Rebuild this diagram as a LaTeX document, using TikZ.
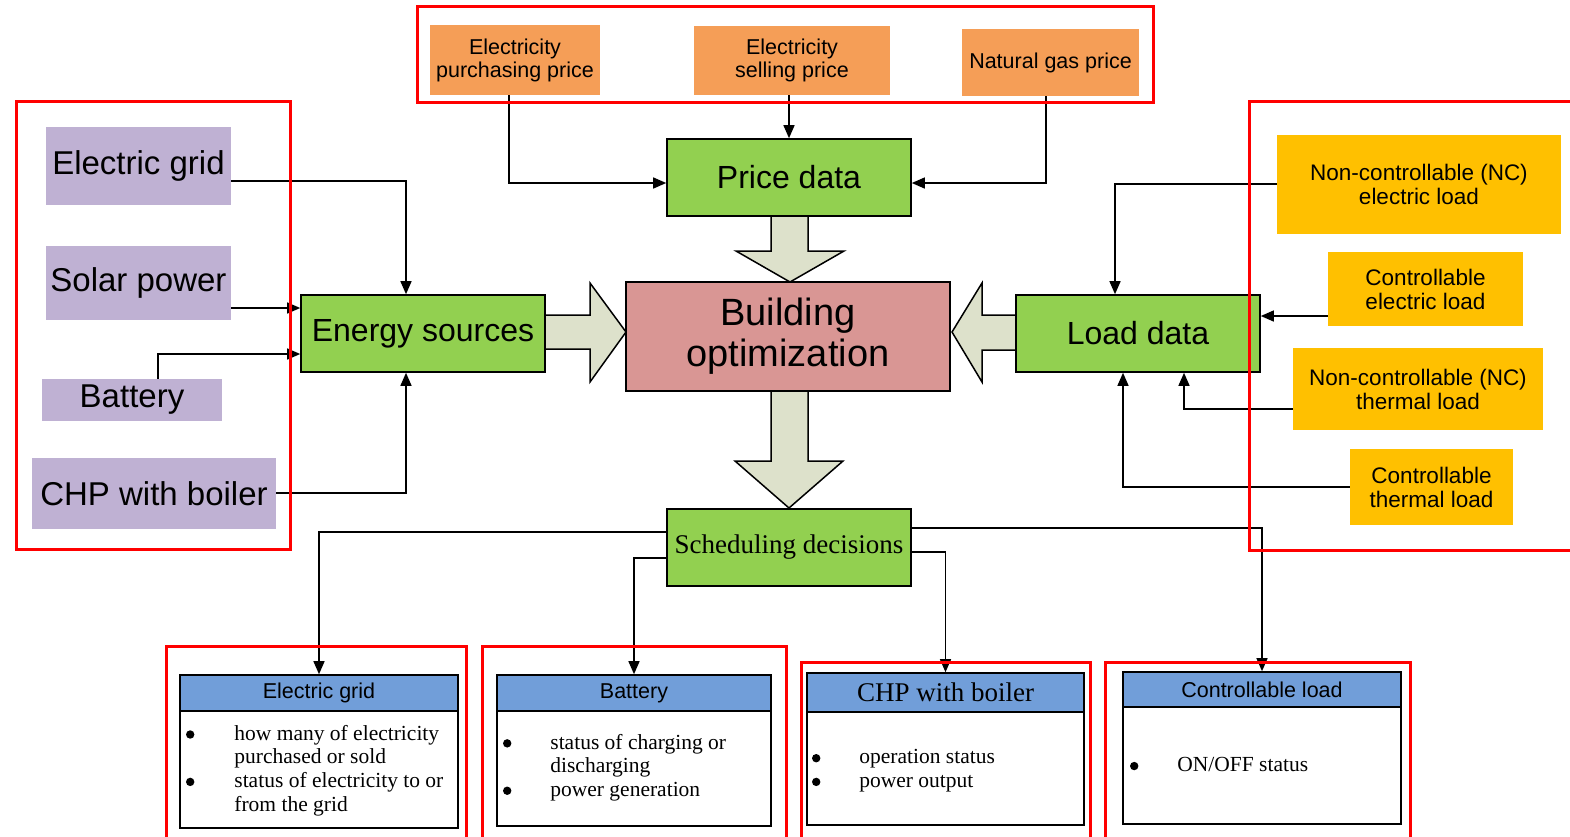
\documentclass[tikz,border=0pt]{standalone}
\usepackage{fontspec}
\setmainfont{Liberation Sans}
\newfontfamily\serifrm{Liberation Serif}
\usetikzlibrary{arrows.meta,calc}
\definecolor{greenbox}{HTML}{92D050}
\definecolor{orangebox}{HTML}{F59E57}
\definecolor{purplebox}{HTML}{BFB1D3}
\definecolor{yellowbox}{HTML}{FFC000}
\definecolor{pinkbox}{HTML}{D99694}
\definecolor{blockfill}{HTML}{DDE1CB}
\definecolor{headerblue}{HTML}{719ED9}
\definecolor{framered}{HTML}{FF0000}
\newcommand{\bigbul}{\raisebox{1.5pt}{\tikz\fill[black] (0pt,0pt) circle (4.2pt);}}
\begin{document}
\begin{tikzpicture}[x=1pt,y=-1pt,
  bx/.style={draw=black, line width=1.6pt, inner sep=0pt, align=center},
  flat/.style={inner sep=0pt, align=center},
  greenb/.style={bx, fill=greenbox, font=\fontsize{32}{38}\selectfont},
  purpleb/.style={flat, fill=purplebox, font=\fontsize{33}{38}\selectfont},
  orangeb/.style={flat, fill=orangebox, font=\fontsize{21.5}{23}\selectfont},
  yellowb/.style={flat, fill=yellowbox, font=\fontsize{22.5}{24}\selectfont},
  hdr/.style={bx, fill=headerblue, font=\fontsize{21.5}{24}\selectfont},
  bodyb/.style={bx, fill=white},
  bodytxt/.style={anchor=west, inner sep=0pt, font=\serifrm\fontsize{21.5}{23.7}\selectfont},
  conn/.style={line width=1.4pt, -{Triangle[length=13pt,width=11pt]}},
  redframe/.style={draw=framered, line width=3pt},
  blockarr/.style={fill=blockfill, draw=black, line width=1.5pt, line join=miter}]
\useasboundingbox (0,0) rectangle (1570,836);
\fill[white] (0,0) rectangle (1570,836);

% block arrows
\filldraw[blockarr] (771,216) -- (771,251) -- (736,251) -- (790,282) -- (844,251) -- (808,251) -- (808,216);
\filldraw[blockarr] (545,315) -- (590,315) -- (590,283) -- (626,332) -- (590,382) -- (590,349) -- (545,349);
\filldraw[blockarr] (1016,315) -- (982,315) -- (982,283) -- (952,332) -- (982,382) -- (982,350) -- (1016,350);
\filldraw[blockarr] (771,391) -- (771,461) -- (735,461) -- (789,508) -- (843,461) -- (808,461) -- (808,391);

% price inputs
\node[orangeb, minimum width=170, minimum height=70] (pp) at (515,60) {Electricity\\purchasing price};
\node[orangeb, minimum width=196, minimum height=69] (sp) at (792,60.5) {Electricity\\selling price};
\node[orangeb, minimum width=177, minimum height=67] (ng) at (1050.5,62.5) {Natural gas price};

% green nodes
\node[greenb, minimum width=244, minimum height=77] (price) at (789,177.5) {Price data};
\node[greenb, minimum width=244, minimum height=77] (es) at (423,333.5) {Energy sources};
\node[greenb, minimum width=244, minimum height=77] (ld) at (1138,333.5) {Load data};
\node[bx, fill=pinkbox, minimum width=324, minimum height=109, font=\fontsize{38}{41}\selectfont] (bo) at (788,336.5) {Building\\optimization};
\node[bx, fill=greenbox, minimum width=244, minimum height=77, font=\serifrm\fontsize{27}{30}\selectfont] (sched) at (789,547.5) {Scheduling decisions};

% energy sources
\node[purpleb, minimum width=185, minimum height=78] (eg) at (138.5,166) {Electric grid};
\node[purpleb, minimum width=185, minimum height=74] (solar) at (138.5,283) {Solar power};
\node[purpleb, minimum width=180, minimum height=42] (batt) at (132,400) {Battery};
\node[purpleb, minimum width=244, minimum height=71] (chp) at (154,493.5) {CHP with boiler};

% loads
\node[yellowb, minimum width=284, minimum height=99] (ncel) at (1419,184.5) {Non-controllable (NC)\\electric load};
\node[yellowb, minimum width=195, minimum height=74] (cel) at (1425.5,289) {Controllable\\electric load};
\node[yellowb, minimum width=250, minimum height=82] (ncth) at (1418,389) {Non-controllable (NC)\\thermal load};
\node[yellowb, minimum width=163, minimum height=76] (cth) at (1431.5,487) {Controllable\\thermal load};

% bottom boxes
\node[bodyb, minimum width=278, minimum height=117] (gridb) at (319,769.5) {};
\node[hdr, minimum width=278, minimum height=36] (gridh) at (319,693) {Electric grid};
\node[bodyb, minimum width=274, minimum height=115] (battb) at (634,768.5) {};
\node[hdr, minimum width=274, minimum height=36] (batth) at (634,693) {Battery};
\node[bodyb, minimum width=277, minimum height=113] (chpb) at (945.5,768.5) {};
\node[hdr, minimum width=277, minimum height=39, font=\serifrm\fontsize{27}{30}\selectfont] (chph) at (945.5,692.5) {CHP with boiler};
\node[bodyb, minimum width=278, minimum height=117] (ctrlb) at (1262,765.5) {};
\node[hdr, minimum width=278, minimum height=35] (ctrlh) at (1262,689.5) {Controllable load};

\node[bodytxt] (gridt) at (185.8,771) {\begin{tabular}{@{}l@{\hspace{40pt}}l@{}}\bigbul & how many of electricity\\ & purchased or sold\\ \bigbul & status of electricity to or\\ & from the grid\end{tabular}};
\node[bodytxt] (battt) at (502.8,768) {\begin{tabular}{@{}l@{\hspace{39pt}}l@{}}\bigbul & status of charging or\\ & discharging\\ \bigbul & power generation\end{tabular}};
\node[bodytxt] (chpt) at (811.8,771) {\begin{tabular}{@{}l@{\hspace{39pt}}l@{}}\bigbul & operation status\\ \bigbul & power output\end{tabular}};
\node[bodytxt] (ctrlt) at (1129.8,767) {\begin{tabular}{@{}l@{\hspace{39pt}}l@{}}\bigbul & ON/OFF status\end{tabular}};

% connectors to price data
\draw[conn] (pp.south -| 509,0) |- (price.west |- 0,183);
\draw[conn] (sp.south -| 789,0) -- (price.north);
\draw[conn] (ng.south -| 1046,0) |- (price.east |- 0,183);

% connectors to energy sources
\draw[conn] (eg.east |- 0,181) -| (es.north -| 406,0);
\draw[conn] (solar.east |- 0,308) -- (es.west |- 0,308);
\draw[conn] (batt.north -| 158,0) |- (es.west |- 0,354);
\draw[conn] (chp.east |- 0,493) -| (es.south -| 406,0);

% connectors to load data
\draw[conn] (ncel.west |- 0,184) -| (ld.north -| 1115,0);
\draw[conn] (cel.west |- 0,316) -- (ld.east |- 0,316);
\draw[conn] (ncth.west |- 0,409) -| (ld.south -| 1184,0);
\draw[conn] (cth.west |- 0,487) -| (ld.south -| 1123,0);

% scheduling decisions
\draw[conn] (sched.west |- 0,532) -| (gridh.north);
\draw[conn] (sched.west |- 0,558) -| (batth.north);
\draw[conn] (sched.east |- 0,552) -| (chph.north);
\draw[conn] (sched.east |- 0,528) -| (ctrlh.north);

% red frames
\draw[redframe] (417,6) rectangle (1153,102);
\draw[redframe] (16,101) rectangle (290,549);
\draw[redframe] (1572,101) -- (1249,101) -- (1249,550) -- (1572,550);
\draw[redframe] (166,838) -- (166,646) -- (466,646) -- (466,838);
\draw[redframe] (482,838) -- (482,646) -- (786,646) -- (786,838);
\draw[redframe] (801,838) -- (801,662) -- (1090,662) -- (1090,838);
\draw[redframe] (1105,838) -- (1105,662) -- (1410,662) -- (1410,838);
\end{tikzpicture}
\end{document}
